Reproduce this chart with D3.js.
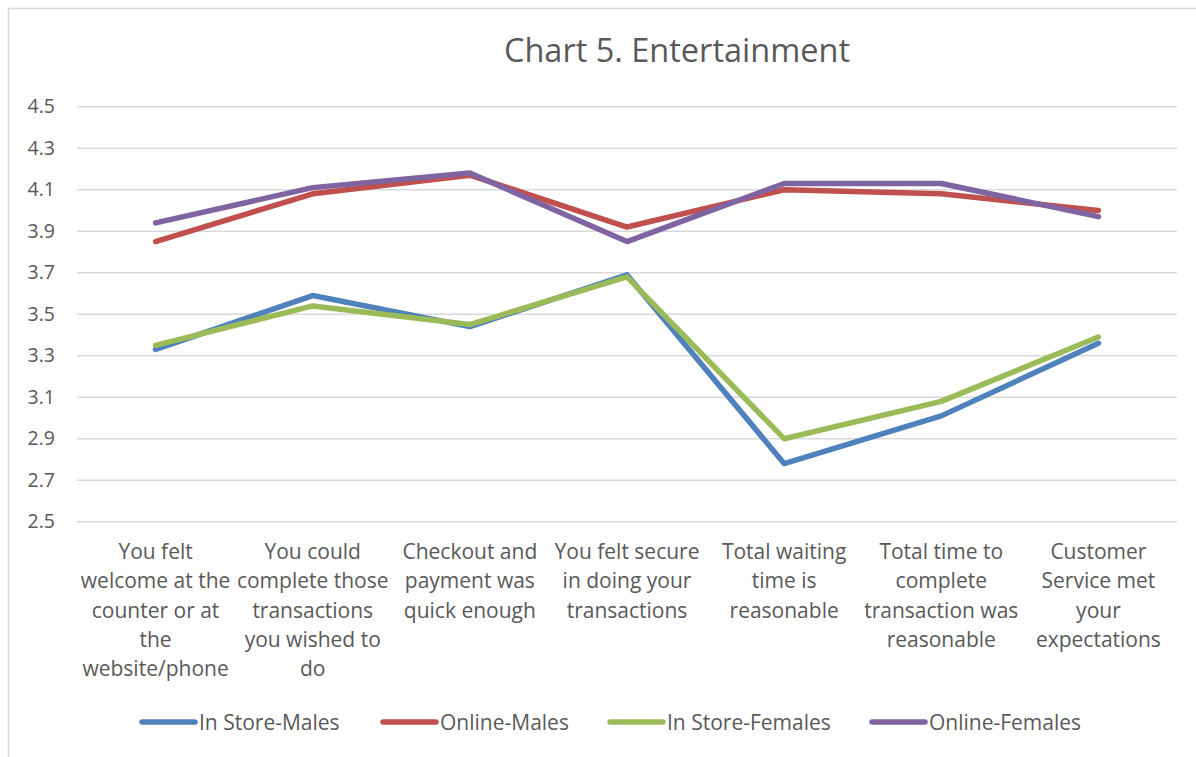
<!DOCTYPE html>
<html>
<head>
<meta charset="utf-8">
<script src="https://cdn.jsdelivr.net/npm/d3@7"></script>
<style>
  body { margin: 0; background: #fff; }
  svg { font-family: "Open Sans", sans-serif; }
</style>
</head>
<body>
<svg class="chart" width="1196" height="757"></svg>
<script>
// categories, already wrapped the way the chart shows them
const categories = [
  ["You felt", "welcome at the", "counter or at", "the", "website/phone"],
  ["You could", "complete those", "transactions", "you wished to", "do"],
  ["Checkout and", "payment was", "quick enough"],
  ["You felt secure", "in doing your", "transactions"],
  ["Total waiting", "time is", "reasonable"],
  ["Total time to", "complete", "transaction was", "reasonable"],
  ["Customer", "Service met", "your", "expectations"]
];

const seriesNames = ["In Store-Males", "Online-Males", "In Store-Females", "Online-Females"];
const seriesColors = ["#4f81bd", "#c0504d", "#9bbb59", "#8064a2"];

const inStoreMales   = [3.33, 3.59, 3.44, 3.69, 2.78, 3.01, 3.36];
const onlineMales    = [3.85, 4.08, 4.17, 3.92, 4.10, 4.08, 4.00];
const inStoreFemales = [3.35, 3.54, 3.45, 3.68, 2.90, 3.08, 3.39];
const onlineFemales  = [3.94, 4.11, 4.18, 3.85, 4.13, 4.13, 3.97];

const yTicks = [2.5, 2.7, 2.9, 3.1, 3.3, 3.5, 3.7, 3.9, 4.1, 4.3, 4.5];

const allSeries = [inStoreMales, onlineMales, inStoreFemales, onlineFemales];

var svg = d3.select(".chart");

// outer frame (top + left only are visible)
svg.append("line").attr("x1", 8).attr("x2", 1196).attr("y1", 8.5).attr("y2", 8.5)
  .attr("stroke", "#d9d9d9").attr("stroke-width", 1.5);
svg.append("line").attr("x1", 8.5).attr("x2", 8.5).attr("y1", 8).attr("y2", 757)
  .attr("stroke", "#d9d9d9").attr("stroke-width", 1.5);

svg.append("text")
  .attr("x", 677).attr("y", 62)
  .attr("text-anchor", "middle")
  .attr("font-size", 32.5)
  .attr("fill", "#595959")
  .text("Chart 5. Entertainment");

const x = d3.scaleBand().domain(d3.range(categories.length)).range([77, 1177]);
const y = d3.scaleLinear().domain([2.5, 4.5]).range([521.7, 106.7]);

// gridlines
svg.append("g")
  .selectAll("line").data(yTicks).enter().append("line")
  .attr("x1", 77).attr("x2", 1177)
  .attr("y1", d => y(d)).attr("y2", d => y(d))
  .attr("stroke", "#d9d9d9").attr("stroke-width", 1.5);

// y axis labels
const yAxis = d3.axisLeft(y).tickValues(yTicks).tickFormat(d3.format(".1f")).tickSize(0).tickPadding(22);
const yg = svg.append("g").attr("transform", "translate(77,0)").call(yAxis);
yg.select(".domain").remove();
yg.selectAll("text").attr("font-size", 19.5).attr("fill", "#595959").attr("font-family", "Open Sans");

// x category labels
const xg = svg.append("g");
categories.forEach((lines, i) => {
  const t = xg.append("text")
    .attr("x", x(i) + x.bandwidth() / 2)
    .attr("y", 559)
    .attr("text-anchor", "middle")
    .attr("font-size", 21)
    .attr("fill", "#595959");
  lines.forEach((ln, j) => {
    t.append("tspan").attr("x", x(i) + x.bandwidth() / 2).attr("dy", j === 0 ? 0 : 29.3).text(ln);
  });
});

// lines
const line = d3.line()
  .x((d, i) => x(i) + x.bandwidth() / 2)
  .y(d => y(d));

svg.append("g").selectAll("path").data(allSeries).enter().append("path")
  .attr("d", line)
  .attr("fill", "none")
  .attr("stroke", (d, i) => seriesColors[i])
  .attr("stroke-width", 5.5)
  .attr("stroke-linecap", "round")
  .attr("stroke-linejoin", "round");

// legend
const legendX = [140, 381, 608, 870];
const lg = svg.append("g").selectAll("g").data(seriesNames).enter().append("g")
  .attr("transform", (d, i) => `translate(${legendX[i]},722)`);
lg.append("line")
  .attr("x1", 2).attr("x2", 55).attr("y1", 0).attr("y2", 0)
  .attr("stroke", (d, i) => seriesColors[i])
  .attr("stroke-width", 5.5).attr("stroke-linecap", "round");
lg.append("text")
  .attr("x", 59).attr("y", 7.5)
  .attr("font-size", 21)
  .attr("fill", "#595959")
  .text(d => d);
</script>
</body>
</html>
